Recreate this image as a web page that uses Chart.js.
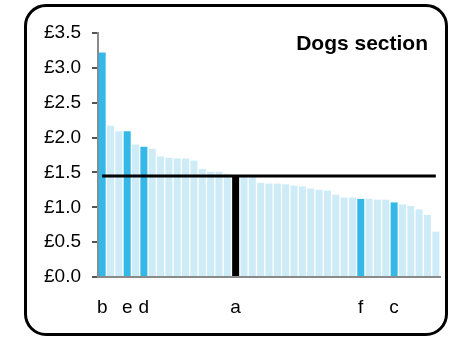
<!DOCTYPE html>
<html>
<head>
<meta charset="utf-8">
<script src="https://cdn.jsdelivr.net/npm/chart.js@4/dist/chart.umd.min.js"></script>
<style>
    body { margin: 0; background: #fff; }
    #wrap { position: relative; width: 450px; height: 337px; }
    #frame {
        position: absolute; left: 24px; top: 4px; width: 424px; height: 332px;
        box-sizing: border-box; border: 3px solid #000; border-radius: 22px;
    }
    #title {
        position: absolute; right: 22px; top: 31px;
        font: bold 21px "Liberation Sans", Arial, sans-serif; color: #000;
    }
    canvas { position: absolute; left: 0; top: 0; }
</style>
</head>
<body>
<div id="wrap">
    <div id="frame"></div>
    <canvas id="chart" width="450" height="337"></canvas>
    <div id="title">Dogs section</div>
</div>
<script>
// Price per item, sorted high to low; only the named items get a label
const itemLabels = ['b', '', '', 'e', '', 'd', '', '', '', '', '', '', '', '', '', '', 'a', '', '', '', '',
    '', '', '', '', '', '', '', '', '', '', 'f', '', '', '', 'c', '', '', '', '', ''];
const prices = [3.22, 2.17, 2.09, 2.09, 1.90, 1.87, 1.84, 1.73, 1.71, 1.70, 1.70, 1.67, 1.55, 1.51, 1.51, 1.48,
    1.45, 1.44, 1.44, 1.35, 1.34, 1.34, 1.33, 1.31, 1.30, 1.27, 1.25, 1.24, 1.18, 1.14, 1.14, 1.12, 1.12,
    1.11, 1.11, 1.07, 1.04, 1.02, 0.97, 0.89, 0.65];
const referencePrice = 1.45;
const yTicks = [0, 0.5, 1.0, 1.5, 2.0, 2.5, 3.0, 3.5];

const highlightColor = '#33b8e8';
const otherColor = '#cdecf8';
const focusColor = '#000000';

const barColors = itemLabels.map(l => l === 'a' ? focusColor : (l ? highlightColor : otherColor));

const fontFamily = '"Liberation Sans", Arial, sans-serif';

new Chart(document.getElementById('chart'), {
    data: {
        labels: itemLabels,
        datasets: [
            {
                type: 'line',
                data: prices.map(() => referencePrice),
                borderColor: '#000',
                borderWidth: 3,
                pointRadius: 0,
                order: 0
            },
            {
                type: 'bar',
                data: prices,
                backgroundColor: barColors,
                categoryPercentage: 1,
                barPercentage: 0.84,
                order: 1
            }
        ]
    },
    options: {
        responsive: false,
        animation: false,
        layout: { padding: { top: 33, right: 10, bottom: 0, left: 0 } },
        plugins: { legend: { display: false }, tooltip: { enabled: false } },
        scales: {
            x: {
                offset: true,
                // invisible ticks push the letters down without widening the axis padding
                grid: { display: true, drawOnChartArea: false, drawTicks: true, tickLength: 19, tickColor: 'rgba(0,0,0,0)' },
                border: { color: '#8a8a8a', width: 2 },
                ticks: {
                    autoSkip: false, maxRotation: 0, padding: 0,
                    color: '#000', font: { family: fontFamily, size: 19 }
                },
                afterFit: scale => { scale.height = 60; }
            },
            y: {
                min: 0,
                max: 3.5,
                afterBuildTicks: scale => { scale.ticks = yTicks.map(v => ({ value: v })); },
                grid: { drawOnChartArea: false, tickLength: 6, color: '#555', lineWidth: 2 },
                border: { color: '#8a8a8a', width: 2 },
                ticks: {
                    padding: 11,
                    color: '#000',
                    font: { family: fontFamily, size: 19 },
                    callback: v => '£' + v.toFixed(1)
                },
                afterFit: scale => { scale.width = 98; }
            }
        }
    }
});
</script>
</body>
</html>
